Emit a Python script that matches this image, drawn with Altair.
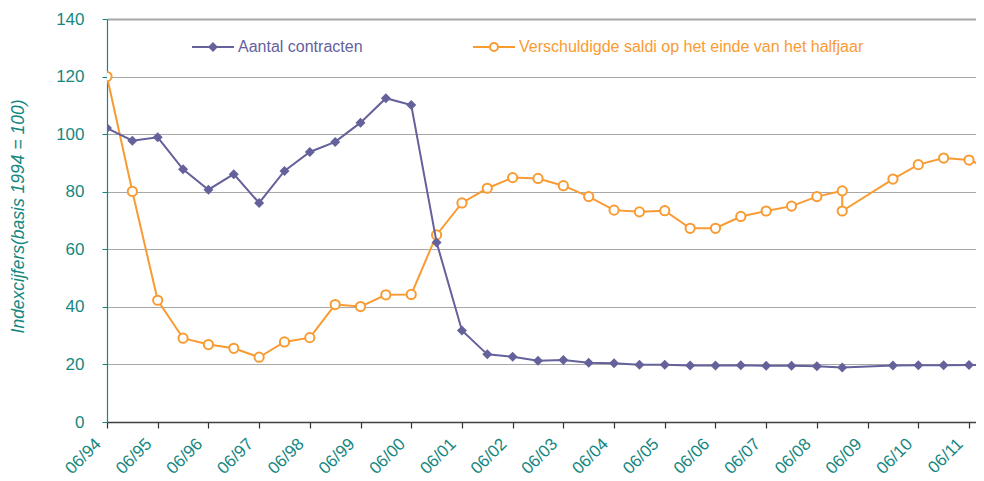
import altair as alt
import pandas as pd

# Half-year periods (index 0 = 06/94, step = half a year)
periods = ["06/94", "12/94", "06/95", "12/95", "06/96", "12/96", "06/97", "12/97",
           "06/98", "12/98", "06/99", "12/99", "06/00", "12/00", "06/01", "12/01",
           "06/02", "12/02", "06/03", "12/03", "06/04", "12/04", "06/05", "12/05",
           "06/06", "12/06", "06/07", "12/07", "06/08", "12/08", "06/09", "12/09",
           "06/10", "12/10", "06/11", "12/11"]

aantal = [102.1, 97.7, 98.9, 87.8, 80.7, 86.1, 76.1, 87.2, 93.8, 97.3, 104.0, 112.5,
          110.1, 62.4, 31.8, 23.5, 22.7, 21.3, 21.5, 20.6, 20.4, 19.9, 19.9, 19.6,
          19.6, 19.7, 19.5, 19.5, 19.4, 18.9, None, 19.6, 19.7, 19.7, 19.8, 19.8]

saldi = [120.0, 80.1, 42.3, 29.1, 26.9, 25.6, 22.5, 27.8, 29.3, 40.8, 40.1, 44.2,
         44.3, 65.0, 76.1, 81.2, 84.9, 84.6, 82.1, 78.3, 73.6, 73.0, 73.4, 67.3,
         67.3, 71.4, 73.3, 75.0, 78.3, 80.3, None, 84.4, 89.4, 91.7, 91.0, 87.5]

# second value at 12/08 (break in the series)
saldi_break_period = "12/08"
saldi_break_value = 73.3

tick_labels = periods[::2]

name_a = "Aantal contracten"
name_s = "Verschuldigde saldi op het einde van het halfjaar"

purple = "#64619b"
orange = "#f99b33"
teal = "#15877f"

rows_a = []
for i, (p, v) in enumerate(zip(periods, aantal)):
    if v is not None:
        rows_a.append({"idx": i, "period": p, "value": v, "order": len(rows_a), "series": name_a})
df_a = pd.DataFrame(rows_a)

rows_s = []
for i, (p, v) in enumerate(zip(periods, saldi)):
    if v is not None:
        rows_s.append({"idx": i, "period": p, "value": v, "order": len(rows_s), "series": name_s})
    if p == saldi_break_period:
        rows_s.append({"idx": i, "period": p, "value": saldi_break_value, "order": len(rows_s), "series": name_s})
df_s = pd.DataFrame(rows_s)

label_expr = "[" + ",".join("'" + t + "'" for t in tick_labels) + "][round(datum.value / 2)]"

x_enc = alt.X("idx:Q",
              scale=alt.Scale(domain=[0, 34.276], nice=False, zero=False),
              axis=alt.Axis(values=list(range(0, 36, 2)), labelExpr=label_expr,
                            labelAngle=-45, labelAlign="right", labelBaseline="middle",
                            labelPadding=13, labelOffset=-9, labelColor=teal, labelFontSize=17,
                            labelFont="Liberation Sans", grid=False,
                            domainColor="#404040", domainWidth=1.5,
                            tickColor="#303030", tickSize=6, tickWidth=1.2,
                            title=None, labelOverlap=False, labelBound=False))

y_enc = alt.Y("value:Q",
              scale=alt.Scale(domain=[0, 140], nice=False),
              axis=alt.Axis(values=list(range(0, 141, 20)), labelColor=teal,
                            labelFontSize=17, labelFont="Liberation Sans",
                            labelPadding=18, tickColor=teal, tickSize=5,
                            domainColor=teal, domainWidth=1.2,
                            grid=True, gridColor="#a8a8a8",
                            gridWidth={"condition": {"test": "datum.value === 140", "value": 2}, "value": 1},
                            title="Indexcijfers(basis 1994 = 100)",
                            titleFont="Liberation Sans", titleFontStyle="italic",
                            titleFontWeight="normal", titleFontSize=17.5, titleColor=teal,
                            titleAngle=-90, titleX=-89, titleY=197,
                            titleAlign="center", titleBaseline="middle"))

diamond_legend = "M-1,0H1M-0.17,0L0,-0.17L0.17,0L0,0.17Z"
circle_legend = ("M-1,0H-0.19M0.19,0H1M-0.19,0A0.19,0.19 0 1,0 0.19,0"
                 "A0.19,0.19 0 1,0 -0.19,0Z")

line_s = alt.Chart(df_s).mark_line(color=orange, strokeWidth=2, clip=True).encode(
    x=x_enc, y=y_enc, order="order:Q")
pts_s = alt.Chart(df_s).mark_point(shape="circle", filled=False, fill="white",
                                   size=85, strokeWidth=2, opacity=1, clip=True).encode(
    x=x_enc, y=y_enc,
    color=alt.Color("series:N",
                    scale=alt.Scale(domain=[name_s], range=[orange]),
                    legend=alt.Legend(title=None, orient="none", legendX=365, legendY=6,
                                      symbolType=circle_legend, symbolSize=1764,
                                      symbolStrokeWidth=2, symbolFillColor="white",
                                      symbolStrokeColor=orange, symbolOpacity=1,
                                      labelFontSize=16, labelLimit=600,
                                      labelFont="Liberation Sans", labelColor=orange,
                                      labelOffset=3, padding=0)))

line_a = alt.Chart(df_a).mark_line(color=purple, strokeWidth=2, clip=True).encode(
    x=x_enc, y=y_enc, order="order:Q")
pts_a = alt.Chart(df_a).mark_point(shape="diamond", filled=True, size=100,
                                   opacity=1, clip=True).encode(
    x=x_enc, y=y_enc,
    color=alt.Color("series:N",
                    scale=alt.Scale(domain=[name_a], range=[purple]),
                    legend=alt.Legend(title=None, orient="none", legendX=84, legendY=6,
                                      symbolType=diamond_legend, symbolSize=1764,
                                      symbolStrokeWidth=2, symbolFillColor=purple,
                                      symbolStrokeColor=purple, symbolOpacity=1,
                                      labelFontSize=16, labelLimit=600,
                                      labelFont="Liberation Sans", labelColor=purple,
                                      labelOffset=3, padding=0)))

chart = alt.layer(line_s, pts_s, line_a, pts_a).resolve_scale(color="independent").properties(
    width=869, height=403,
    autosize=alt.AutoSizeParams(type="none"),
    padding={"left": 99, "top": 11, "right": 0, "bottom": 58},
    background="white",
).configure_view(stroke=None)

chart.save("out.html", embed_options={"renderer": "svg", "actions": False})
